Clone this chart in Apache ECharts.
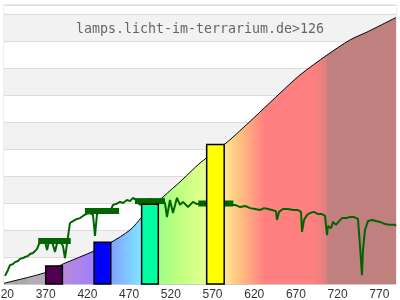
<!DOCTYPE html>
<html><head><meta charset="utf-8">
<script src="https://cdn.jsdelivr.net/npm/echarts@6/dist/echarts.min.js"></script>
<style>html,body{margin:0;padding:0;background:#fff}#c{width:400px;height:300px}</style>
</head><body><div id="c"></div>
<script>
const titleText = 'lamps.licht-im-terrarium.de>126';
const xMin = 320, xMax = 790, xStep = 50;
const yMax = 10.333;

// smooth envelope curve (wavelength nm, relative value)
const curveNm  = [320, 370.4, 390.7, 427.9, 447.1, 471.1, 485.5, 510.6, 533.4, 555.0, 585.0, 594.6, 627.0, 651.0, 674.9, 707.3, 734.9, 755.2, 790];
const curveVal = [0.03, 0.43, 0.74, 1.22, 1.52, 2.00, 2.48, 3.22, 3.85, 4.48, 5.19, 5.44, 6.37, 7.07, 7.74, 8.48, 9.04, 9.33, 9.87];

// measured spectrum
const specNm = [321.2,324.8,327.2,330.8,333.2,336.8,339.2,342.8,345.2,348.8,351.2,354.8,357.2,359.6,362.0,365.6,369.2,371.6,374.0,377.6,381.2,383.6,387.2,390.7,393.1,395.5,399.1,402.7,407.5,411.1,414.7,418.3,423.1,426.7,429.1,431.5,435.1,439.9,443.5,447.1,450.7,454.3,459.1,462.7,467.5,471.1,474.7,478.3,483.1,486.7,491.5,495.1,499.9,504.6,509.4,513.0,515.4,519.0,522.6,527.4,531.0,534.6,540.6,546.6,551.4,557.4,567.0,579.0,591.2,597.2,603.2,609.2,615.2,621.0,627.0,631.8,636.5,641.3,646.1,647.3,649.7,654.5,660.5,666.5,672.5,676.1,677.3,679.7,683.3,686.9,691.7,696.5,701.3,704.9,707.3,708.5,712.1,714.5,718.1,721.7,725.3,730.1,734.9,739.7,744.4,746.8,749.2,750.4,752.8,756.4,761.2,766.0,770.8,776.8,782.8,788.8,790];
const specVal = [0.30,0.52,0.70,0.74,0.81,0.85,0.93,0.96,1.00,1.04,1.11,1.15,1.22,1.30,1.48,1.59,1.56,1.26,1.59,1.56,1.19,1.52,1.59,1.41,0.96,1.48,2.26,2.33,2.41,2.44,2.52,2.59,2.63,2.56,1.78,2.59,2.67,2.70,2.74,2.67,2.93,2.96,3.04,3.00,3.11,3.07,3.19,3.11,2.93,3.11,3.04,3.15,3.07,3.11,3.04,3.00,2.48,3.11,2.63,3.19,2.93,3.04,2.85,3.04,2.96,3.00,2.96,3.00,2.93,2.93,2.85,2.89,2.81,2.78,2.74,2.81,2.78,2.74,2.70,2.37,2.67,2.78,2.78,2.74,2.74,2.67,1.93,2.37,2.56,2.63,2.67,2.59,2.59,2.52,1.81,2.15,2.07,2.30,2.19,2.33,2.44,2.44,2.48,2.48,2.41,1.44,0.33,1.26,2.00,2.33,2.37,2.33,2.30,2.22,2.19,2.19,2.15];

// LED bars
const barStart = [370, 428, 485, 563];
const barEnd   = [390, 448, 505, 584];
const barVal   = [0.67, 1.55, 2.95, 5.17];
const barColors = ['#500050', '#0000ff', '#00ffa0', '#ffff00'];

// thick green level markers
const markStart = [361, 417, 477, 553];
const markEnd   = [400, 458, 513, 595];
const markVal   = [1.59, 2.70, 3.07, 2.98];

const frac = nm => (nm - xMin) / (xMax - xMin);
const stopDefs = [[320,'#a8a8a8'],[348,'#a8a8a8'],[349,'#b4aeb4'],[370,'#b4aeb4'],[391,'#b888d8'],[428,'#a080ff'],[448,'#80a0ff'],[485,'#80e8ff'],[505,'#9cff88'],[531,'#c0ff80'],[563,'#e8ff90'],[584,'#ffe890'],[603,'#ffc080'],[621,'#ff9880'],[633,'#ff8080'],[691,'#ff8080'],[706,'#e08080'],[708,'#c08080'],[790,'#c08080']];

const chart = echarts.init(document.getElementById('c'), null, {renderer: 'canvas'});
chart.setOption({
  animation: false,
  title: {
    text: titleText, left: 'center', top: 23, padding: 0,
    textStyle: {fontFamily: 'DejaVu Sans Mono', fontSize: 13.3, fontWeight: 'normal', color: '#666'}
  },
  grid: {left: 4, right: 4, top: 5, bottom: 16, show: true, borderColor: '#dcdcdc', borderWidth: 1,
         containLabel: false, outerBoundsMode: 'none'},
  xAxis: {
    type: 'value', min: xMin, max: xMax, interval: xStep,
    axisLine: {lineStyle: {color: '#cccccc'}},
    axisTick: {show: false},
    splitLine: {show: false},
    axisLabel: {
      color: '#333', fontSize: 12, fontFamily: 'Liberation Sans', margin: 5,
      showMaxLabel: false,
      formatter: v => ((v - xMin) % xStep === 0 ? String(v) : '')
    }
  },
  yAxis: {
    type: 'value', min: 0, max: yMax, interval: 1,
    axisLabel: {show: false}, axisLine: {show: false}, axisTick: {show: false},
    splitLine: {lineStyle: {color: '#dcdcdc'}},
    splitArea: {show: true, areaStyle: {color: ['#ffffff', '#f2f2f2']}}
  },
  series: [
    {
      type: 'line', z: 1, smooth: 0.3, showSymbol: false,
      data: curveNm.map((x, i) => [x, curveVal[i]]),
      lineStyle: {color: '#000', width: 1},
      areaStyle: {
        opacity: 1,
        color: new echarts.graphic.LinearGradient(0, 0, 1, 0,
          stopDefs.map(s => ({offset: frac(s[0]), color: s[1]})))
      }
    },
    {
      type: 'line', z: 2, showSymbol: false,
      data: specNm.map((x, i) => [x, specVal[i]]),
      lineStyle: {color: '#006400', width: 2}
    },
    {
      type: 'custom', z: 3,
      data: markStart.map((s, i) => [s, markEnd[i], markVal[i]]),
      encode: {x: [0, 1], y: 2},
      renderItem: (params, api) => {
        const a = api.coord([api.value(0), api.value(2)]);
        const b = api.coord([api.value(1), api.value(2)]);
        return {type: 'rect', shape: {x: a[0], y: a[1] - 3, width: b[0] - a[0], height: 6},
          style: {fill: '#006400'}};
      }
    },
    {
      type: 'custom', z: 4,
      data: barStart.map((s, i) => [s, barEnd[i], barVal[i]]),
      encode: {x: [0, 1], y: 2},
      renderItem: (params, api) => {
        const a = api.coord([api.value(0), api.value(2)]);
        const b = api.coord([api.value(1), 0]);
        return {type: 'rect', shape: {x: a[0], y: a[1], width: b[0] - a[0], height: b[1] - a[1]},
          style: {fill: barColors[params.dataIndex], stroke: '#000', lineWidth: 1.5}};
      }
    }
  ]
});
</script></body></html>
